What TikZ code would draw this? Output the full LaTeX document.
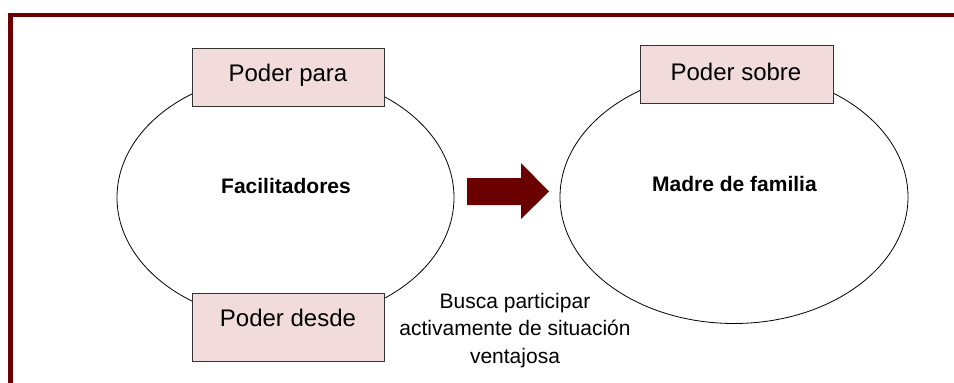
\documentclass[tikz,border=0pt]{standalone}
\usepackage{fontspec}
\setmainfont{Liberation Sans}
\usetikzlibrary{shapes.geometric}
\definecolor{framered}{HTML}{6B0000}
\definecolor{boxpink}{HTML}{F2DCDB}
\tikzset{
  ring/.style={draw=black, line width=0.8pt, ellipse, inner sep=0pt},
  pinkbox/.style={draw=black!80, line width=0.9pt, fill=boxpink, inner sep=0pt},
  boxtext/.style={font=\fontsize{24}{28}\selectfont, inner sep=0pt},
  boldtext/.style={font=\bfseries\fontsize{21}{24}\selectfont, inner sep=0pt},
  notetext/.style={font=\fontsize{21}{27.5}\selectfont, align=center, inner sep=0pt}
}
\begin{document}
\begin{tikzpicture}[x=1pt, y=-1pt]
\useasboundingbox (0,0) rectangle (954,383);
\begin{scope}
\clip (0,0) rectangle (954,383);
\draw[framered, line width=4.6pt] (10.3,400) -- (10.3,15) -- (970,15);
\end{scope}
% ellipses
\node[ring, minimum width=337pt, minimum height=249pt] (left) at (285.5,197.5) {};
\node[ring, minimum width=348pt, minimum height=253pt] (right) at (734,197) {};
\node[boldtext] (facil) at (286,186) {Facilitadores};
\node[boldtext] (madre) at (734.5,184) {Madre de familia};
% boxes
\node[pinkbox, minimum width=192pt, minimum height=58pt] (parabox) at (288,77) {};
\node[boxtext] (para) at (288,75) {Poder para};
\node[pinkbox, minimum width=192pt, minimum height=68pt] (desdebox) at (288,327) {};
\node[boxtext] (desde) at (288,318) {Poder desde};
\node[pinkbox, minimum width=193pt, minimum height=58pt] (sobrebox) at (736.5,74) {};
\node[boxtext] (sobre) at (736,72) {Poder sobre};
% arrow
\fill[framered] (467,178) -- (521,178) -- (521,163) -- (549,191.5) -- (521,219) -- (521,205) -- (467,205) -- cycle;
% note
\node[notetext] (note) at (515,330.5) {Busca participar\\activamente de situación\\ventajosa};
\end{tikzpicture}
\end{document}
